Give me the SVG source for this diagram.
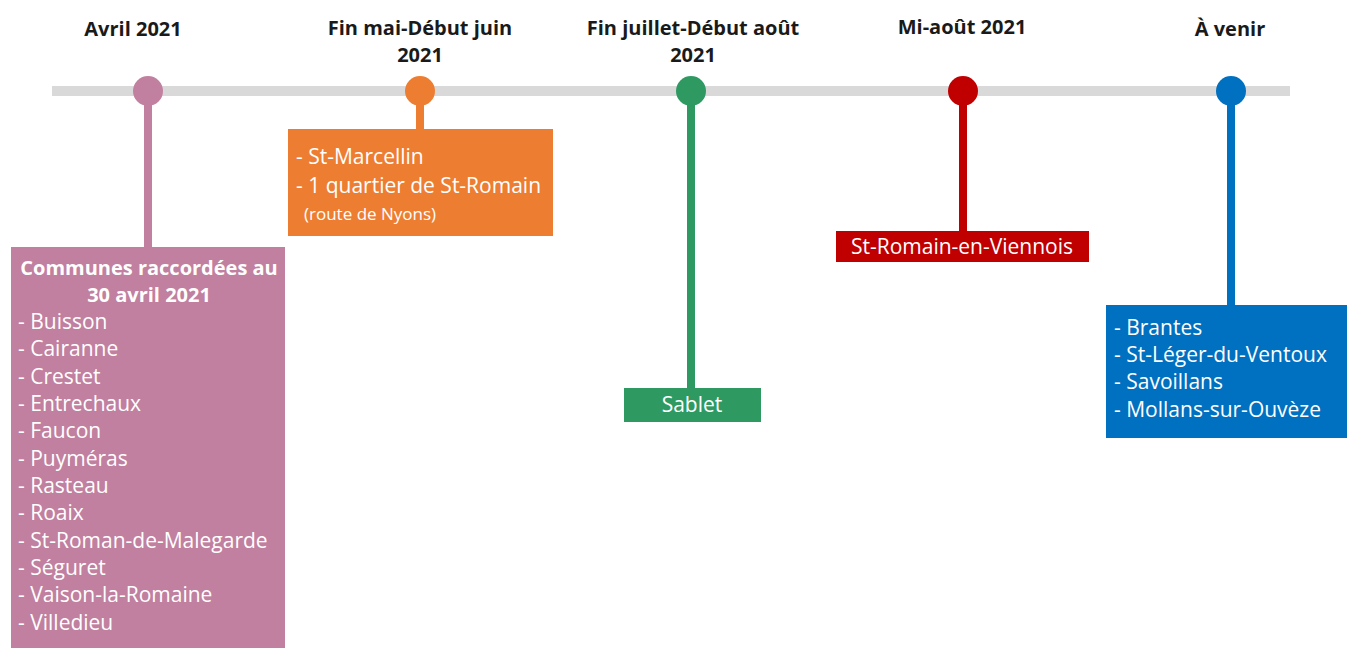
<svg xmlns="http://www.w3.org/2000/svg" width="1347" height="648" viewBox="0 0 1347 648">
<style>
.t{font-family:"Open Sans","Noto Sans",sans-serif;font-weight:bold;font-size:20px;fill:#1a1a1a;text-anchor:middle}
.b{font-family:"Open Sans","Noto Sans",sans-serif;font-size:21px;fill:#fff}
.bb{font-weight:bold;font-size:20px}
.c{text-anchor:middle}
.s{font-size:17px}
</style>
<rect width="1347" height="648" fill="#fff"/>
<g id="axis"><rect x="52" y="86" width="1238" height="10" fill="#d9d9d9"/></g>
<g id="connectors">
<rect x="144" y="91" width="8" height="158" fill="#c1809f"/>
<rect x="416" y="91" width="8" height="40" fill="#ed7d31"/>
<rect x="687" y="91" width="8" height="299" fill="#2e9a62"/>
<rect x="959" y="91" width="8" height="142" fill="#c00000"/>
<rect x="1227" y="91" width="8" height="216" fill="#0070c0"/>
</g>
<g id="n1">
<text class="t" x="133" y="36">Avril 2021</text>
<circle cx="148" cy="91" r="15" fill="#c1809f"/>
<rect x="11" y="247" width="274" height="401" fill="#c1809f"/>
<text class="b bb c" x="149" y="275">Communes raccordées au</text>
<text class="b bb c" x="149" y="302">30 avril 2021</text>
<text class="b" x="18" y="329">- Buisson</text>
<text class="b" x="18" y="356">- Cairanne</text>
<text class="b" x="18" y="384">- Crestet</text>
<text class="b" x="18" y="411">- Entrechaux</text>
<text class="b" x="18" y="438">- Faucon</text>
<text class="b" x="18" y="466">- Puyméras</text>
<text class="b" x="18" y="493">- Rasteau</text>
<text class="b" x="18" y="520">- Roaix</text>
<text class="b" x="18" y="548">- St-Roman-de-Malegarde</text>
<text class="b" x="18" y="575">- Séguret</text>
<text class="b" x="18" y="602">- Vaison-la-Romaine</text>
<text class="b" x="18" y="630">- Villedieu</text>
</g>
<g id="n2">
<text class="t" x="420" y="35">Fin mai-Début juin</text>
<text class="t" x="420" y="62">2021</text>
<circle cx="420" cy="91" r="15" fill="#ed7d31"/>
<rect x="288" y="129" width="265" height="107" fill="#ed7d31"/>
<text class="b" x="296" y="164">- St-Marcellin</text>
<text class="b" x="296" y="193">- 1 quartier de St-Romain</text>
<text class="b s" x="304" y="220">(route de Nyons)</text>
</g>
<g id="n3">
<text class="t" x="693" y="35">Fin juillet-Début août</text>
<text class="t" x="693" y="62">2021</text>
<circle cx="691" cy="91" r="15" fill="#2e9a62"/>
<rect x="624" y="388" width="137" height="34" fill="#2e9a62"/>
<text class="b c" x="692" y="412">Sablet</text>
</g>
<g id="n4">
<text class="t" x="962" y="34">Mi-août 2021</text>
<circle cx="963" cy="91" r="15" fill="#c00000"/>
<rect x="836" y="231" width="253" height="31" fill="#c00000"/>
<text class="b c" x="962" y="254">St-Romain-en-Viennois</text>
</g>
<g id="n5">
<text class="t" x="1230" y="36">À venir</text>
<circle cx="1231" cy="91" r="15" fill="#0070c0"/>
<rect x="1106" y="305" width="241" height="133" fill="#0070c0"/>
<text class="b" x="1114" y="335">- Brantes</text>
<text class="b" x="1114" y="362">- St-Léger-du-Ventoux</text>
<text class="b" x="1114" y="389">- Savoillans</text>
<text class="b" x="1114" y="417">- Mollans-sur-Ouvèze</text>
</g>
</svg>
